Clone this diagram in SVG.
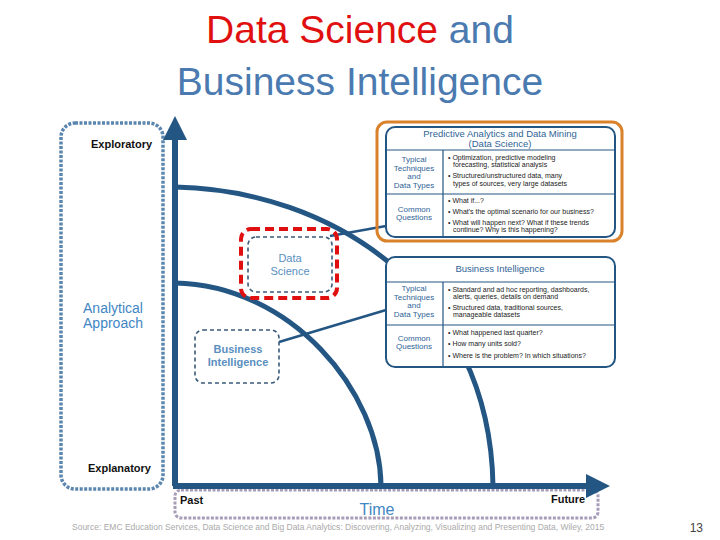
<svg xmlns="http://www.w3.org/2000/svg" width="720" height="540" viewBox="0 0 720 540">
<style>
.t{font-family:"Liberation Sans",Arial,sans-serif}
.ax{stroke:#245684;fill:none}
.pl{fill:#fff;stroke:#245684;stroke-width:2}
.dv{stroke:#245684;stroke-width:1.2}
.lab{font-family:"Liberation Sans",Arial,sans-serif;font-size:8px;fill:#2f6496;text-anchor:middle}
.it{font-family:"Liberation Sans",Arial,sans-serif;font-size:7px;fill:#222}
.hd{font-family:"Liberation Sans",Arial,sans-serif;font-size:9.5px;fill:#2f6496;text-anchor:middle}
</style>
<defs><marker id="ah" markerWidth="4" markerHeight="4" refX="2" refY="2" orient="auto" markerUnits="strokeWidth"><path d="M0,0L4,2L0,4z" fill="#245684"/></marker></defs>
<rect width="720" height="540" fill="#fff"/>
<text x="360" y="43" text-anchor="middle" class="t" font-size="39"><tspan fill="#e01010">Data Science</tspan><tspan fill="#4a7ab0"> and</tspan></text>
<text x="360" y="95" text-anchor="middle" class="t" font-size="39" fill="#4a7ab0">Business Intelligence</text>
<g id="approach">
<rect x="61" y="123" width="102" height="366" rx="14" fill="none" stroke="#5a86b0" stroke-width="3.5" stroke-dasharray="3 1.5"/>
<text x="91" y="148" class="t" font-size="11" font-weight="bold" fill="#111">Exploratory</text>
<text x="88" y="472" class="t" font-size="11" font-weight="bold" fill="#111">Explanatory</text>
<text x="113" y="313" text-anchor="middle" class="t" font-size="14" fill="#3f86c4">Analytical</text>
<text x="113" y="328" text-anchor="middle" class="t" font-size="14" fill="#3f86c4">Approach</text>
</g>
<g id="time">
<rect x="175" y="490" width="423" height="28" rx="6" fill="none" stroke="#a89cb8" stroke-width="3" stroke-dasharray="3 1.5"/>
<text x="180" y="504" class="t" font-size="11" font-weight="bold" fill="#111">Past</text>
<text x="551" y="503" class="t" font-size="11" font-weight="bold" fill="#111">Future</text>
<text x="377" y="515" text-anchor="middle" class="t" font-size="16" fill="#3f86c4">Time</text>
</g>
<g id="connectors">
<path class="ax" stroke-width="6" d="M175,486V128" marker-end="url(#ah)"/>
<path class="ax" stroke-width="6" d="M173,486H598" marker-end="url(#ah)"/>
<path class="ax" stroke-width="5" d="M175,187C330,190 490,290 493,486"/>
<path class="ax" stroke-width="5" d="M175,283C290,285 380,390 381,486"/>
<path class="ax" stroke-width="2.5" d="M330,236L386,226"/>
<path class="ax" stroke-width="2.5" d="M279,342L386,310"/>
</g>
<g id="ds-node">
<rect x="241" y="229" width="96" height="69" rx="10" fill="none" stroke="#e01010" stroke-width="4" stroke-dasharray="9 5"/>
<rect x="248" y="237" width="84" height="55" rx="8" fill="#fff" stroke="#3a5a7a" stroke-width="1.6" stroke-dasharray="4 3"/>
<text x="290" y="262" text-anchor="middle" class="t" font-size="11" fill="#5a8fc0">Data</text>
<text x="290" y="275" text-anchor="middle" class="t" font-size="11" fill="#5a8fc0">Science</text>
</g>
<g id="bi-node">
<rect x="195" y="330" width="84" height="53" rx="8" fill="#fff" stroke="#3a5a7a" stroke-width="1.6" stroke-dasharray="4 3"/>
<text x="238" y="353" text-anchor="middle" class="t" font-size="11" font-weight="bold" fill="#5a8fc0">Business</text>
<text x="238" y="366" text-anchor="middle" class="t" font-size="11" font-weight="bold" fill="#5a8fc0">Intelligence</text>
</g>
<g id="ds-panel">
<rect x="377" y="122" width="245" height="119" rx="10" fill="none" stroke="#d9822b" stroke-width="3"/>
<rect class="pl" x="386" y="127" width="229" height="110" rx="9"/>
<path class="dv" d="M386,150H615M386,194H615M443,150V237"/>
<text class="hd" x="500" y="137">Predictive Analytics and Data Mining</text>
<text class="hd" x="500" y="147">(Data Science)</text>
<text class="lab" x="414" y="162">Typical</text><text class="lab" x="414" y="171">Techniques</text><text class="lab" x="414" y="179">and</text><text class="lab" x="414" y="188">Data Types</text>
<text class="lab" x="414" y="212">Common</text><text class="lab" x="414" y="220">Questions</text>
<text class="it" x="448" y="160">• Optimization, predictive modeling</text>
<text class="it" x="453" y="167">forecasting, statistical analysis</text>
<text class="it" x="448" y="178">• Structured/unstructured data, many</text>
<text class="it" x="453" y="186">types of sources, very large datasets</text>
<text class="it" x="448" y="203">• What if...?</text>
<text class="it" x="448" y="214">• What's the optimal scenario for our business?</text>
<text class="it" x="448" y="225">• What will happen next? What if these trends</text>
<text class="it" x="453" y="232">continue? Why is this happening?</text>
</g>
<g id="bi-panel">
<rect class="pl" x="386" y="257" width="229" height="110" rx="9"/>
<path class="dv" d="M386,282H615M386,325H615M443,282V367"/>
<text class="hd" x="500" y="272">Business Intelligence</text>
<text class="lab" x="414" y="291">Typical</text><text class="lab" x="414" y="300">Techniques</text><text class="lab" x="414" y="308">and</text><text class="lab" x="414" y="317">Data Types</text>
<text class="lab" x="414" y="341">Common</text><text class="lab" x="414" y="349">Questions</text>
<text class="it" x="448" y="292">• Standard and ad hoc reporting, dashboards,</text>
<text class="it" x="453" y="299">alerts, queries, details on demand</text>
<text class="it" x="448" y="310">• Structured data, traditional sources,</text>
<text class="it" x="453" y="317">manageable datasets</text>
<text class="it" x="448" y="335">• What happened last quarter?</text>
<text class="it" x="448" y="346">• How many units sold?</text>
<text class="it" x="448" y="358">• Where is the problem? In which situations?</text>
</g>
<text x="72" y="530" class="t" font-size="8.5" fill="#aaa">Source: EMC Education Services, Data Science and Big Data Analytics: Discovering, Analyzing, Visualizing and Presenting Data, Wiley, 2015</text>
<text x="703" y="532" text-anchor="end" class="t" font-size="12" fill="#444">13</text>
</svg>
